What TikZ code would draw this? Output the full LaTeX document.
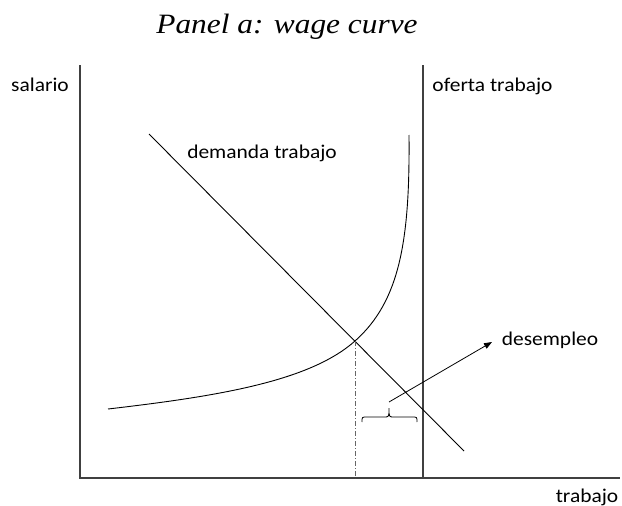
\documentclass[tikz,border=0pt]{standalone}
\usepackage{fontspec}
\usepackage{graphicx}
\newfontfamily\calibf{Carlito}
\newfontfamily\titlef{Liberation Serif}
\usetikzlibrary{arrows.meta}
\newcommand\lbltxt[1]{\scalebox{1.1}[1]{#1}}
\begin{document}
\begin{tikzpicture}[x=1pt,y=-1pt,
  lbl/.style={anchor=base,inner sep=0pt,font=\calibf\fontsize{19.5}{22}\selectfont},
  axisline/.style={draw=black!75,line width=1.1pt},
  curveline/.style={draw=black,line width=0.9pt},
  guideline/.style={draw=black!60,line width=0.9pt,dash pattern=on 5pt off 2pt on 1pt off 2pt}]
\useasboundingbox (0,0) rectangle (622,506);
% title
\node[anchor=base,inner sep=0pt,font=\titlef\itshape\fontsize{28}{30}\selectfont] (title) at (287,34) {\scalebox{1.12}[1]{Panel a: wage curve}};
% axes
\coordinate (o) at (80,478);
\coordinate (ytop) at (80,65);
\coordinate (xend) at (620,478);
\draw[axisline] (ytop) -- (o) -- (xend);
% oferta
\coordinate (sTop) at (423,65);
\coordinate (sBot) at (423,478);
\draw[axisline] (sTop) -- (sBot);
% demanda
\coordinate (dA) at (149,134);
\coordinate (dB) at (464,451);
\draw[curveline] (dA) -- (dB);
% wage curve
\coordinate (wA) at (108,409);
\coordinate (eq) at (355,341);
\coordinate (wB) at (409,135);
\draw[curveline] (wA) .. controls (220,396) and (310,381) .. (eq) .. controls (400,301) and (410,240) .. (wB);
% equilibrium guide
\coordinate (eqB) at (355,478);
\draw[guideline] (eq) -- (eqB);
% brace
\coordinate (bL) at (362,422);
\coordinate (bR) at (417,422);
\coordinate (bT) at (389,408);
\draw[curveline,line width=0.8pt] (bL) .. controls (362,417) .. (367,417) -- (384,417) .. controls (389,417) .. (bT) .. controls (389,417) .. (394,417) -- (412,417) .. controls (417,417) .. (bR);
% arrow
\coordinate (aS) at (389,402);
\coordinate (aE) at (492,342);
\draw[curveline,line width=0.8pt,-{Triangle[length=8pt,width=6pt]}] (aS) -- (aE);
% labels
\node[lbl] (salario) at (40,91) {\lbltxt{salario}};
\node[lbl] (oferta) at (492.5,91) {\lbltxt{oferta trabajo}};
\node[lbl] (demanda) at (262,158) {\lbltxt{demanda trabajo}};
\node[lbl] (desempleo) at (550,345) {\lbltxt{desempleo}};
\node[lbl] (trabajo) at (587,502) {\lbltxt{trabajo}};
\end{tikzpicture}
\end{document}
